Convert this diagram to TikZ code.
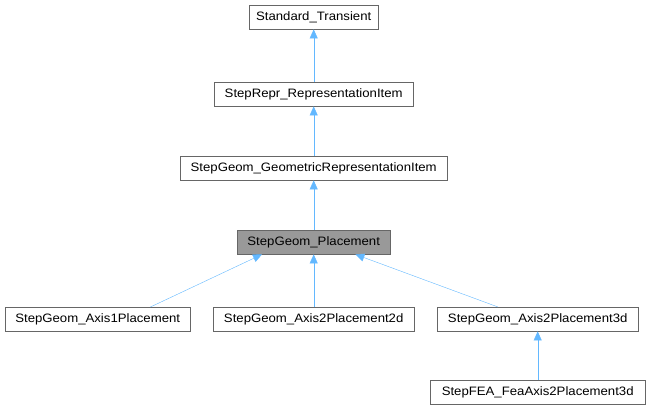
\documentclass[tikz,border=0pt]{standalone}
\usepackage{fontspec}
\setmainfont{Liberation Sans}[FakeStretch=1.08]
\usetikzlibrary{arrows.meta}
\definecolor{edge}{HTML}{63B8FF}
\begin{document}
\begin{tikzpicture}[x=1pt,y=-1pt,
  box/.style={draw=black!60,fill=white,minimum height=24pt,inner sep=0pt,font=\fontsize{12.2}{14}\selectfont,anchor=north west},
  inh/.style={draw=edge,-{Triangle[length=9pt,width=8pt,fill=edge]}}]
\useasboundingbox (0,0) rectangle (650,411);
\node[box,minimum width=129pt] (st) at (249,5) {Standard\_Transient};
\node[box,minimum width=199pt] (ri) at (214,82) {StepRepr\_RepresentationItem};
\node[box,minimum width=267pt] (gi) at (180,156) {StepGeom\_GeometricRepresentationItem};
\node[box,minimum width=153pt,fill=black!40] (pl) at (237,230) {StepGeom\_Placement};
\node[box,minimum width=185pt] (a1) at (5,307) {StepGeom\_Axis1Placement};
\node[box,minimum width=201pt] (a2) at (213,307) {StepGeom\_Axis2Placement2d};
\node[box,minimum width=201pt] (a3) at (437,307) {StepGeom\_Axis2Placement3d};
\node[box,minimum width=215pt] (fe) at (430,380) {StepFEA\_FeaAxis2Placement3d};
\draw[inh] (ri.north) -- (st.south);
\draw[inh] (gi.north) -- (ri.south);
\draw[inh] (pl.north) -- (gi.south);
\draw[inh] (a2.north) -- (pl.south);
\draw[inh] ([xshift=-40pt]a1.north east) -- ([xshift=25pt]pl.south west);
\draw[inh] ([xshift=61pt]a3.north west) -- ([xshift=-35pt]pl.south east);
\draw[inh] (fe.north) -- (a3.south);
\end{tikzpicture}
\end{document}
